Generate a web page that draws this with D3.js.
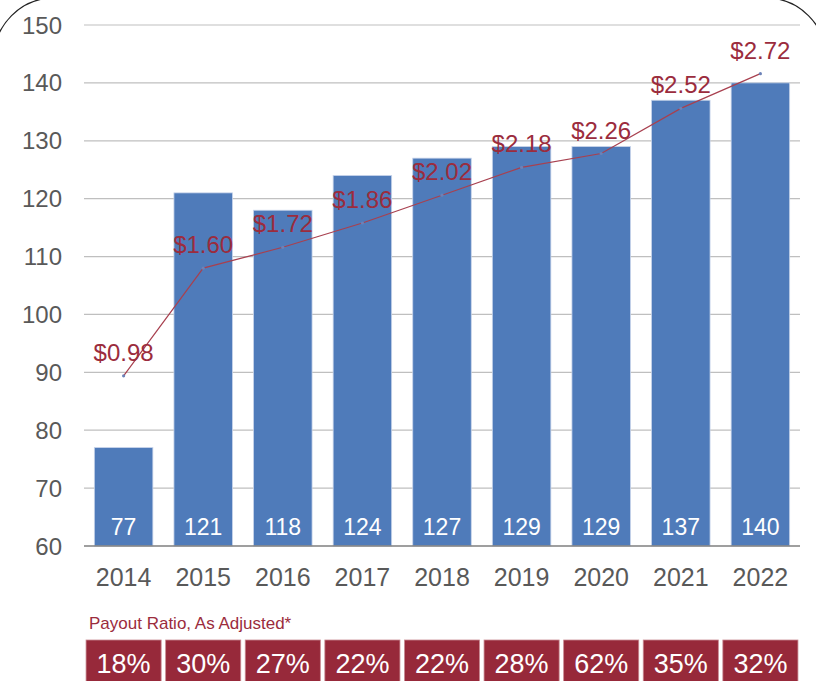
<!DOCTYPE html>
<html>
<head>
<meta charset="utf-8">
<script src="https://d3js.org/d3.v7.min.js"></script>
<style>
  body { margin: 0; background: #fff; }
  svg { display: block; font-family: "Liberation Sans", Arial, sans-serif; }
  .tick-label { fill: #595959; font-size: 24px; }
  .year-label { fill: #595959; font-size: 25px; }
  .bar { fill: #4F7BBA; stroke: #c7d4ea; stroke-width: 0.8; }
  .bar-label { fill: #fff; font-size: 23px; }
  .grid { stroke: #BFBFBF; stroke-width: 1.2; }
  .div-line { fill: none; stroke: #A8404F; stroke-width: 1.2; }
  .div-label { fill: #9B2C3D; font-size: 24px; }
  .payout-box { fill: #97293A; stroke: #c98a93; stroke-width: 0.8; }
  .payout-text { fill: #fff; font-size: 27px; }
  .payout-title { fill: #9B2C3D; font-size: 17px; }
</style>
</head>
<body>
<div id="chart"></div>
<script>
// ---- data ----
var years = ["2014", "2015", "2016", "2017", "2018", "2019", "2020", "2021", "2022"];
var barValues = [77, 121, 118, 124, 127, 129, 129, 137, 140];
var dividends = [0.98, 1.60, 1.72, 1.86, 2.02, 2.18, 2.26, 2.52, 2.72];
var payoutRatios = ["18%", "30%", "27%", "22%", "22%", "28%", "62%", "35%", "32%"];
var yTicks = [60, 70, 80, 90, 100, 110, 120, 130, 140, 150];
var payoutTitle = "Payout Ratio, As Adjusted*";

var width = 816, height = 681;
var plotLeft = 84, plotRight = 800, plotTop = 25, plotBottom = 546;

var svg = d3.select("#chart").append("svg")
    .attr("width", width)
    .attr("height", height);

// rounded frame, mostly outside the canvas
svg.append("rect")
    .attr("x", -6).attr("y", -2)
    .attr("width", 832).attr("height", 900)
    .attr("rx", 60)
    .attr("fill", "none")
    .attr("stroke", "#222")
    .attr("stroke-width", 1.2);

var x = d3.scaleBand().domain(years).range([plotLeft, plotRight]).paddingInner(0.265).paddingOuter(0.13);
var y = d3.scaleLinear().domain([60, 150]).range([plotBottom, plotTop]);
var y2 = d3.scaleLinear().domain([0, 3]).range([plotBottom, plotTop]);

// gridlines
svg.append("g").selectAll("line")
    .data(yTicks.filter(function(d) { return d > 60; }))
    .enter().append("line")
    .attr("class", "grid")
    .attr("x1", plotLeft).attr("x2", plotRight)
    .attr("y1", function(d) { return y(d); })
    .attr("y2", function(d) { return y(d); });

// y tick labels
svg.append("g").selectAll("text")
    .data(yTicks)
    .enter().append("text")
    .attr("class", "tick-label")
    .attr("x", 62)
    .attr("y", function(d) { return y(d) + 8.5; })
    .attr("text-anchor", "end")
    .text(function(d) { return d; });

// bars
svg.append("g").selectAll("rect")
    .data(barValues)
    .enter().append("rect")
    .attr("class", "bar")
    .attr("x", function(d, i) { return x(years[i]); })
    .attr("width", x.bandwidth())
    .attr("y", function(d) { return y(d); })
    .attr("height", function(d) { return y(60) - y(d); });

svg.append("g").selectAll("text")
    .data(barValues)
    .enter().append("text")
    .attr("class", "bar-label")
    .attr("x", function(d, i) { return x(years[i]) + x.bandwidth() / 2; })
    .attr("y", plotBottom - 11)
    .attr("text-anchor", "middle")
    .text(function(d) { return d; });

// axis base line
svg.append("line")
    .attr("x1", plotLeft).attr("x2", plotRight)
    .attr("y1", plotBottom).attr("y2", plotBottom)
    .attr("stroke", "#7F7F7F").attr("stroke-width", 1.5);

// year labels
svg.append("g").selectAll("text")
    .data(years)
    .enter().append("text")
    .attr("class", "year-label")
    .attr("x", function(d) { return x(d) + x.bandwidth() / 2; })
    .attr("y", 586)
    .attr("text-anchor", "middle")
    .text(function(d) { return d; });

// dividend line
var line = d3.line()
    .x(function(d, i) { return x(years[i]) + x.bandwidth() / 2; })
    .y(function(d) { return y2(d); });

svg.append("path")
    .datum(dividends)
    .attr("class", "div-line")
    .attr("d", line);

svg.append("g").selectAll("circle")
    .data(dividends)
    .enter().append("circle")
    .attr("cx", function(d, i) { return x(years[i]) + x.bandwidth() / 2; })
    .attr("cy", function(d) { return y2(d); })
    .attr("r", 1.6)
    .attr("fill", "#6C82B8");

svg.append("g").selectAll("text")
    .data(dividends)
    .enter().append("text")
    .attr("class", "div-label")
    .attr("x", function(d, i) { return x(years[i]) + x.bandwidth() / 2; })
    .attr("y", function(d) { return y2(d) - 15; })
    .attr("text-anchor", "middle")
    .text(function(d) { return "$" + d.toFixed(2); });

// payout ratio row
svg.append("text")
    .attr("class", "payout-title")
    .attr("x", 89)
    .attr("y", 629)
    .text(payoutTitle);

var boxW = x.step() - 4.5;
svg.append("g").selectAll("rect")
    .data(payoutRatios)
    .enter().append("rect")
    .attr("class", "payout-box")
    .attr("x", function(d, i) { return x(years[i]) + x.bandwidth() / 2 - boxW / 2; })
    .attr("y", 640)
    .attr("width", boxW)
    .attr("height", 60);

svg.append("g").selectAll("text")
    .data(payoutRatios)
    .enter().append("text")
    .attr("class", "payout-text")
    .attr("x", function(d, i) { return x(years[i]) + x.bandwidth() / 2; })
    .attr("y", 673)
    .attr("text-anchor", "middle")
    .text(function(d) { return d; });
</script>
</body>
</html>
